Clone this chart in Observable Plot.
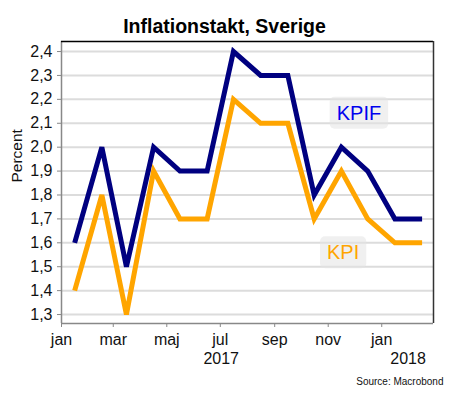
<!DOCTYPE html>
<html>
<head>
<meta charset="utf-8">
<script src="https://cdn.jsdelivr.net/npm/d3@7"></script>
<script src="https://cdn.jsdelivr.net/npm/@observablehq/plot@0.6"></script>
<style>
  html, body { margin: 0; padding: 0; background: #fff; }
  #chart svg { display: block; }
</style>
</head>
<body>
<div id="chart"></div>
<script>
// ---- data ----
const periods = ["2017-01","2017-02","2017-03","2017-04","2017-05","2017-06","2017-07","2017-08","2017-09","2017-10","2017-11","2017-12","2018-01","2018-02"];
const kpif = [1.6, 2.0, 1.5, 2.0, 1.9, 1.9, 2.4, 2.3, 2.3, 1.8, 2.0, 1.9, 1.7, 1.7];
const kpi  = [1.4, 1.8, 1.3, 1.9, 1.7, 1.7, 2.2, 2.1, 2.1, 1.7, 1.9, 1.7, 1.6, 1.6];
const monthNames = ["jan","feb","mar","apr","maj","jun","jul","aug","sep","okt","nov","dec"];
const xTicks = ["2017-01-01","2017-03-01","2017-05-01","2017-07-01","2017-09-01","2017-11-01","2018-01-01"];
const yTicks = [1.3, 1.4, 1.5, 1.6, 1.7, 1.8, 1.9, 2.0, 2.1, 2.2, 2.3, 2.4];
const yearLabels = ["2017", "2018"];
const yearCenters = ["2017-07-02", "2018-01-31"];
const seriesNames = ["KPIF", "KPI"];
const seriesLabelDates = ["2017-12-06", "2017-11-18"];
const seriesLabelValues = [2.142, 1.558];
const xDomain = ["2017-01-01", "2018-03-01"];
const yDomain = [1.2625, 2.442];

const toDate = s => new Date(s.length === 7 ? s + "-16T00:00:00Z" : s + "T00:00:00Z");
const rows = periods.flatMap((p, i) => [
  {date: toDate(p), value: kpif[i], series: "KPIF"},
  {date: toDate(p), value: kpi[i], series: "KPI"}
]);
const colors = {KPIF: "#000080", KPI: "#FFA500"};
const labelColors = {KPIF: "#0000EE", KPI: "#FFA500"};
const seriesLabels = seriesNames.map((n, i) => ({name: n, date: toDate(seriesLabelDates[i]), value: seriesLabelValues[i]}));
const fmtY = d => d.toFixed(1).replace(".", ",");
const fmtX = d => monthNames[d.getUTCMonth()];
const font = "Liberation Sans, Arial, Helvetica, sans-serif";

const chart = Plot.plot({
  width: 455,
  height: 400,
  marginLeft: 61,
  marginRight: 22,
  marginTop: 41,
  marginBottom: 77,
  style: {fontFamily: font, fontSize: "14px", color: "#111", background: "#fff"},
  x: {type: "utc", domain: xDomain.map(toDate)},
  y: {domain: yDomain},
  marks: [
    Plot.gridY(yTicks, {stroke: "#dcdcdc", strokeOpacity: 1, strokeWidth: 2}),
    Plot.axisY(yTicks, {tickFormat: fmtY, tickSize: 4, tickPadding: 5, stroke: "#888", fill: "#111", fontSize: 16, label: null}),
    Plot.axisX(xTicks.map(toDate), {tickFormat: fmtX, tickSize: 4, tickPadding: 6, stroke: "#888", fill: "#111", fontSize: 16, label: null}),
    Plot.ruleX([toDate(xDomain[0])], {stroke: "#888", strokeWidth: 1.5}),
    Plot.ruleY([yDomain[0]], {stroke: "#888", strokeWidth: 1.5}),
    Plot.ruleY([yDomain[1]], {stroke: "#000", strokeWidth: 1.5}),
    Plot.ruleX([toDate(xDomain[1])], {stroke: "#333", strokeWidth: 1.5}),
    Plot.line(rows, {x: "date", y: "value", z: "series", stroke: d => colors[d.series], strokeWidth: 5, strokeLinejoin: "miter", strokeLinecap: "butt", strokeMiterlimit: 4}),
    Plot.text(seriesLabels, {x: "date", y: "value", text: "name", fill: d => labelColors[d.name], fontSize: 20}),
    Plot.text(yearLabels, {x: (d, i) => toDate(yearCenters[i]), frameAnchor: "bottom", dy: 40, text: d => d, fontSize: 16, fill: "#111"}),
    Plot.text(["Percent"], {frameAnchor: "left", dx: -44, rotate: -90, fontSize: 15.5, fill: "#111"}),
    Plot.text(["Inflationstakt, Sverige"], {frameAnchor: "top", dx: -23, dy: -22, fontSize: 19.5, fontWeight: "bold", fill: "#000"}),
    Plot.text(["Source: Macrobond"], {frameAnchor: "bottom-right", textAnchor: "end", dx: 10, dy: 61, fontSize: 10, fill: "#111"})
  ]
});

document.getElementById("chart").appendChild(chart);

// soft background boxes behind the series labels
const svgNode = chart.tagName.toLowerCase() === "svg" ? chart : chart.querySelector("svg");
d3.select(svgNode).selectAll("text").filter(function() {
  return seriesNames.includes(this.textContent);
}).each(function() {
  const b = this.getBBox();
  const t = this.getAttribute("transform");
  const padX = 7, padY = 5;
  const rect = document.createElementNS("http://www.w3.org/2000/svg", "rect");
  rect.setAttribute("x", b.x - padX);
  rect.setAttribute("y", b.y - padY);
  rect.setAttribute("width", b.width + 2 * padX);
  rect.setAttribute("height", b.height + 2 * padY);
  rect.setAttribute("rx", 5);
  if (t) rect.setAttribute("transform", t);
  rect.setAttribute("fill", "#e4e4e4");
  rect.setAttribute("fill-opacity", 0.55);
  this.parentNode.insertBefore(rect, this);
});
</script>
</body>
</html>
